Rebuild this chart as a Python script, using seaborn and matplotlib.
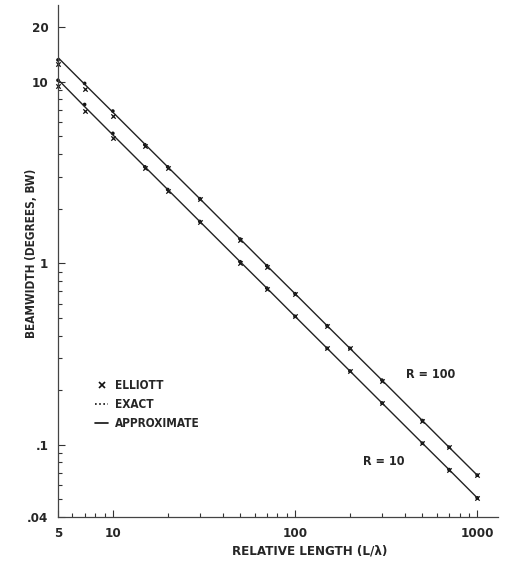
import matplotlib
matplotlib.use("Agg")
import matplotlib.pyplot as plt
import seaborn as sns
import pandas as pd
import numpy as np
from matplotlib.lines import Line2D
from matplotlib.ticker import FixedLocator, NullFormatter, FixedFormatter, LogLocator
from matplotlib import font_manager as fm

# ---- data ----
rel_length = [5, 7, 10, 15, 20, 30, 50, 70, 100, 150, 200, 300, 500, 700, 1000]

approx_r100 = [13.6, 9.7, 6.8, 4.53, 3.4, 2.27, 1.36, 0.97, 0.68, 0.453, 0.34, 0.227, 0.136, 0.097, 0.068]
approx_r10 = [10.3, 7.3, 5.1, 3.4, 2.55, 1.7, 1.02, 0.73, 0.51, 0.34, 0.255, 0.17, 0.102, 0.073, 0.051]

exact_r100 = [13.2, 9.8, 6.9, 4.5, 3.4, 2.27, 1.36, 0.97, 0.68, 0.453, 0.34, 0.227, 0.136, 0.097, 0.068]
exact_r10 = [10.2, 7.5, 5.2, 3.4, 2.55, 1.7, 1.02, 0.73, 0.51, 0.34, 0.255, 0.17, 0.102, 0.073, 0.051]

elliott_r100 = [12.5, 9.1, 6.5, 4.45, 3.35, 2.25, 1.35, 0.96, 0.68, 0.45, 0.34, 0.226, 0.136, 0.097, 0.068]
elliott_r10 = [9.5, 6.9, 4.9, 3.35, 2.5, 1.68, 1.01, 0.72, 0.51, 0.34, 0.254, 0.17, 0.102, 0.073, 0.051]

x_tick_vals = [5, 10, 100, 1000]
x_tick_labels = ["5", "10", "100", "1000"]
y_tick_vals = [0.04, 0.1, 1, 10, 20]
y_tick_labels = [".04", ".1", "1", "10", "20"]

legend_labels = ["ELLIOTT", "EXACT", "APPROXIMATE"]
curve_labels = ["R = 100", "R = 10"]

# ---- build tables ----
approx = pd.DataFrame({
    "L": rel_length * 2,
    "BW": approx_r100 + approx_r10,
    "R": ["100"] * len(rel_length) + ["10"] * len(rel_length),
})
exact = pd.DataFrame({"L": rel_length * 2, "BW": exact_r100 + exact_r10})
elliott = pd.DataFrame({"L": rel_length * 2, "BW": elliott_r100 + elliott_r10})

sns.set_style("ticks")
plt.rcParams["font.family"] = ["DejaVu Sans"]
plt.rcParams["font.stretch"] = "condensed"

fp = dict(family="DejaVu Sans", stretch="condensed", weight="bold")

fig = plt.figure(figsize=(5.05, 5.64), dpi=100)
ax = fig.add_axes([58 / 505, 47 / 564, 440 / 505, 512 / 564])

sns.lineplot(data=approx, x="L", y="BW", units="R", estimator=None,
             color="#222222", linewidth=1.0, ax=ax, legend=False)
sns.scatterplot(data=exact, x="L", y="BW", marker="o", s=7, color="#111111",
                edgecolor="none", ax=ax, legend=False, clip_on=False)
sns.scatterplot(data=elliott, x="L", y="BW", marker="x", s=10, color="#111111",
                linewidth=0.9, ax=ax, legend=False, clip_on=False)

ax.set_xscale("log")
ax.set_yscale("log")
ax.set_xlim(5, 1300)
ax.set_ylim(0.04, 26.5)

ax.xaxis.set_major_locator(FixedLocator(x_tick_vals))
ax.xaxis.set_major_formatter(FixedFormatter(x_tick_labels))
ax.xaxis.set_minor_locator(LogLocator(base=10, subs=np.arange(2, 10)))
ax.xaxis.set_minor_formatter(NullFormatter())
ax.yaxis.set_major_locator(FixedLocator(y_tick_vals))
ax.yaxis.set_major_formatter(FixedFormatter(y_tick_labels))
ax.yaxis.set_minor_locator(LogLocator(base=10, subs=np.arange(2, 10)))
ax.yaxis.set_minor_formatter(NullFormatter())

ax.tick_params(which="both", direction="in", color="#333333", width=0.8)
ax.tick_params(which="major", length=5, labelsize=9.5, pad=7)
ax.tick_params(which="minor", length=3)
for lab in ax.get_xticklabels() + ax.get_yticklabels():
    lab.set_fontweight("bold")
    lab.set_fontstretch("condensed")

sns.despine(ax=ax)
for s in ["left", "bottom"]:
    ax.spines[s].set_color("#444444")
    ax.spines[s].set_linewidth(0.9)

ax.set_xlabel("RELATIVE LENGTH (L/\u03bb)", fontsize=9.5, **fp)
ax.set_ylabel("BEAMWIDTH (DEGREES, BW)", fontsize=8.5, **fp)
ax.xaxis.set_label_coords(252 / 440, -28 / 512)
ax.yaxis.set_label_coords(-20 / 440, 264 / 512)

ax.text(407, 0.243, curve_labels[0], fontsize=9, ha="left", va="center", **fp)
ax.text(237, 0.0806, curve_labels[1], fontsize=9, ha="left", va="center", **fp)

handles = [
    Line2D([], [], marker="x", linestyle="none", color="#111111", markersize=4, markeredgewidth=1.2),
    Line2D([], [], linestyle=(0, (1, 1.5)), color="#111111", linewidth=1.2),
    Line2D([], [], linestyle="-", color="#111111", linewidth=1.2),
]
leg = ax.legend(handles, legend_labels, loc="upper left", bbox_to_anchor=(0.06, 0.29),
                frameon=False, handlelength=1.1, handletextpad=0.6, labelspacing=0.5,
                prop=fm.FontProperties(size=8.5, **fp))

fig.savefig("out.png", dpi=100)
